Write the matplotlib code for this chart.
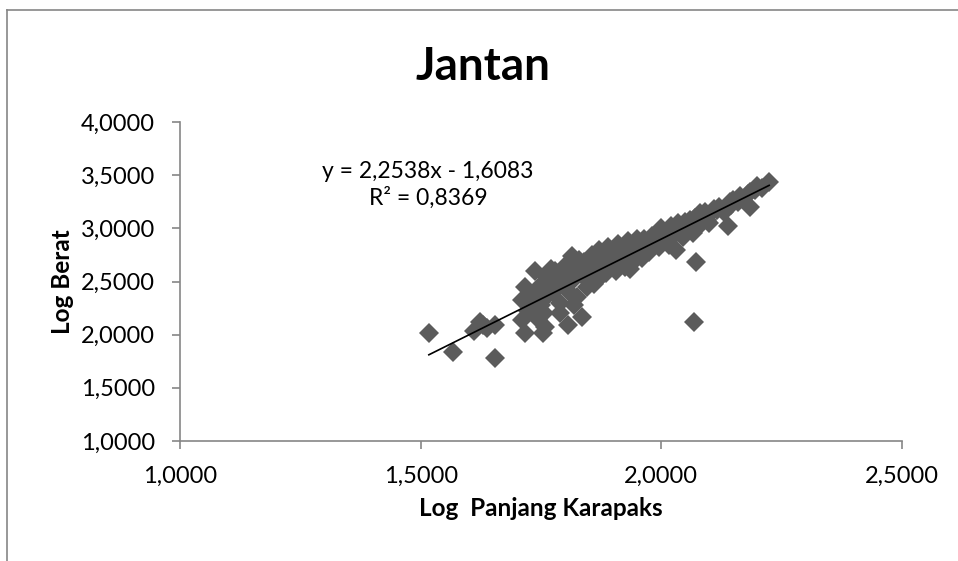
import numpy as np
import matplotlib.pyplot as plt
from matplotlib.lines import Line2D
from matplotlib.ticker import FuncFormatter

# Log panjang karapaks (x) dan log berat (y)
log_panjang = [1.517, 1.567, 1.654, 1.623, 1.611, 1.638, 1.654, 1.630,
               1.711, 1.717, 1.723, 1.711, 1.717, 1.733, 1.744, 1.738, 1.754, 1.750,
               1.745, 1.760, 1.725, 1.760, 1.756, 1.758,
               1.770, 1.775, 1.780, 1.785, 1.790, 1.795, 1.800, 1.806, 1.808, 1.812,
               1.815, 1.820, 1.825, 1.835, 1.838, 1.840, 1.845, 1.850, 1.790, 1.818,
               1.770, 1.828,
               1.855, 1.860, 1.865, 1.870, 1.875, 1.880, 1.885, 1.890, 1.895, 1.900,
               1.905, 1.910, 1.915, 1.920, 1.925, 1.930, 1.935, 1.940, 1.945, 1.950,
               1.862, 1.935,
               1.955, 1.960, 1.965, 1.970, 1.975, 1.980, 1.985, 1.990, 1.995, 2.000,
               2.005, 2.010, 2.015, 2.020, 2.025, 2.030, 2.035, 2.040, 2.045, 2.050,
               2.072, 2.068,
               2.055, 2.060, 2.065, 2.070, 2.075, 2.080, 2.085, 2.090, 2.095, 2.100,
               2.110, 2.116, 2.120, 2.130, 2.139, 2.145, 2.149, 2.160, 2.164, 2.180,
               2.184, 2.195, 2.199, 2.224, 2.210, 2.184, 2.143]
log_berat = [2.02, 1.84, 1.78, 2.12, 2.03, 2.06, 2.09, 2.09,
             2.33, 2.45, 2.22, 2.14, 2.02, 2.38, 2.15, 2.60, 2.02, 2.28,
             2.45, 2.55, 2.30, 2.35, 2.20, 2.07,
             2.50, 2.40, 2.60, 2.45, 2.30, 2.55, 2.65, 2.09, 2.40, 2.50,
             2.74, 2.60, 2.35, 2.17, 2.55, 2.68, 2.45, 2.62, 2.20, 2.28,
             2.62, 2.70,
             2.75, 2.48, 2.62, 2.80, 2.55, 2.70, 2.58, 2.82, 2.66, 2.75,
             2.60, 2.85, 2.70, 2.78, 2.64, 2.88, 2.74, 2.82, 2.70, 2.90,
             2.50, 2.62,
             2.80, 2.72, 2.90, 2.85, 2.78, 2.93, 2.86, 2.95, 2.82, 3.00,
             2.90, 2.96, 2.84, 3.02, 2.93, 2.80, 3.05, 2.98, 2.92, 3.06,
             2.68, 2.12,
             3.00, 3.08, 2.96, 3.10, 3.03, 3.14, 3.05, 3.15, 3.08, 3.05,
             3.18, 3.17, 3.20, 3.15, 3.02, 3.22, 3.27, 3.25, 3.30, 3.32,
             3.34, 3.36, 3.40, 3.44, 3.38, 3.20, 3.25]

slope = 2.2538
intercept = -1.6083
r2_text = "R² = 0,8369"
eq_text = "y = 2,2538x - 1,6083"

x_ticks = [1.0, 1.5, 2.0, 2.5]
y_ticks = [1.0, 1.5, 2.0, 2.5, 3.0, 3.5, 4.0]

plt.rcParams['font.family'] = ['Lato', 'DejaVu Sans']

fig = plt.figure(figsize=(9.58, 5.61), dpi=100)
ax = fig.add_axes([180 / 958, 120 / 561, 722 / 958, 319 / 561])

gray = '#868686'
ax.plot(log_panjang, log_berat, linestyle='none', marker='D', markersize=10,
        color='#5b5b5b', markeredgewidth=0)

# garis tren linear
x_line = np.array([min(log_panjang), max(log_panjang)])
ax.plot(x_line, slope * x_line + intercept, color='black', linewidth=1.2)

ax.set_xlim(1.0, 2.5)
ax.set_ylim(1.0, 4.0)
ax.set_xticks(x_ticks)
ax.set_yticks(y_ticks)
fmt = FuncFormatter(lambda v, p: f"{v:.4f}".replace('.', ','))
ax.xaxis.set_major_formatter(fmt)
ax.yaxis.set_major_formatter(fmt)

for side in ['top', 'right']:
    ax.spines[side].set_visible(False)
for side in ['left', 'bottom']:
    ax.spines[side].set_color(gray)
    ax.spines[side].set_linewidth(1.2)
ax.tick_params(axis='both', direction='out', length=6, width=1.2, color=gray,
               labelsize=17)
ax.tick_params(axis='y', pad=12)
ax.tick_params(axis='x', pad=12)

ax.set_xlabel("Log  Panjang Karapaks", fontsize=17.5, fontweight='bold', labelpad=7)
ax.set_ylabel("Log Berat", fontsize=17.5, fontweight='bold', labelpad=5)

fig.text(483 / 958, 1 - 67 / 561, "Jantan", ha='center', va='center',
         fontsize=33, fontweight='bold')
fig.text(428 / 958, 1 - 185 / 561, eq_text + "\n" + r2_text, ha='center', va='center',
         fontsize=16.5, linespacing=1.3)

# bingkai grafik
fig.add_artist(Line2D([7 / 958, 7 / 958], [0, 1 - 10 / 561], transform=fig.transFigure,
                      color=gray, linewidth=1.2))
fig.add_artist(Line2D([7 / 958, 1], [1 - 10 / 561, 1 - 10 / 561], transform=fig.transFigure,
                      color=gray, linewidth=1.2))

fig.savefig('out.png', dpi=100)
